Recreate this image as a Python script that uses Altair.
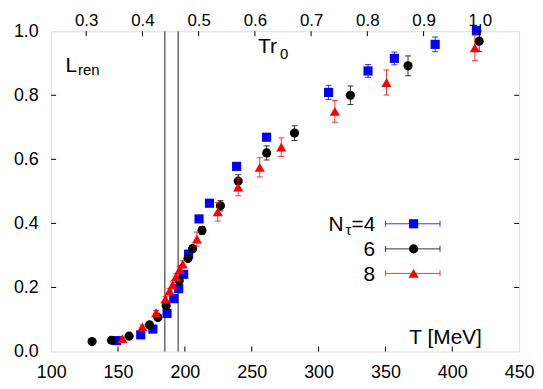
import altair as alt
import pandas as pd

# ---------------- data ----------------
# N_tau = 4 (blue squares)
T4 = [149.0, 167.0, 176.1, 186.7, 191.7, 195.4, 199.1, 202.8, 210.6, 218.4,
      238.7, 261.1, 307.5, 337.0, 356.7, 387.2, 418.1]
L4 = [0.034, 0.052, 0.070, 0.119, 0.165, 0.196, 0.241, 0.304, 0.414, 0.463,
      0.578, 0.669, 0.809, 0.876, 0.915, 0.959, 1.002]
E4 = [0.004, 0.004, 0.004, 0.005, 0.005, 0.005, 0.006, 0.006, 0.007, 0.008,
      0.010, 0.010, 0.022, 0.020, 0.020, 0.023, 0.010]

# N_tau = 6 (black circles)
T6 = [130.6, 145.1, 158.3, 173.6, 179.8, 186.0, 195.8, 202.3, 205.8, 212.8,
      226.6, 239.9, 261.2, 282.0, 323.8, 366.9, 420.1]
L6 = [0.031, 0.035, 0.048, 0.083, 0.106, 0.143, 0.221, 0.290, 0.321, 0.378,
      0.455, 0.532, 0.620, 0.682, 0.800, 0.892, 0.969]
E6 = [0.004, 0.004, 0.005, 0.006, 0.006, 0.007, 0.008, 0.009, 0.010, 0.012,
      0.016, 0.020, 0.022, 0.023, 0.029, 0.031, 0.032]

# N_tau = 8 (red triangles)
T8 = [153.3, 168.2, 178.5, 185.5, 188.6, 190.9, 193.4, 196.1, 198.4, 209.0,
      224.6, 239.9, 256.0, 272.1, 312.2, 350.8, 416.9]
L8 = [0.040, 0.077, 0.121, 0.164, 0.189, 0.208, 0.234, 0.256, 0.273, 0.351,
      0.436, 0.513, 0.575, 0.638, 0.750, 0.840, 0.948]
E8 = [0.005, 0.006, 0.007, 0.008, 0.008, 0.009, 0.009, 0.010, 0.010, 0.022,
      0.029, 0.027, 0.030, 0.029, 0.034, 0.039, 0.040]

vlines = [185, 195]
x_ticks = [100, 150, 200, 250, 300, 350, 400, 450]
y_ticks = [0.0, 0.2, 0.4, 0.6, 0.8, 1.0]
top_ticks = [0.3, 0.4, 0.5, 0.6, 0.7, 0.8, 0.9, 1.0]
TR0_T = 420.6  # T [MeV] at which T r0 = 1

legend_labels = ["=4", "6", "8"]
colors = ["#0000ff", "#000000", "#ff0000"]
shapes = ["square", "circle", "triangle-up"]
sizes = [85, 85, 105]

# ---------------- layout ----------------
W, H = 471.5, 322.7
FONT = "Liberation Sans"
TICK_FS = 18
ANN_FS = 21
SUB_FS = 15

xscale = alt.Scale(domain=[100, 450], nice=False, zero=False)
yscale = alt.Scale(domain=[0, 1], nice=False, zero=False)
xaxis = alt.Axis(values=x_ticks, format="d", orient="bottom", ticks=False,
                 domain=False, grid=False, labelPadding=12, title=None,
                 labelFont=FONT, labelFontSize=TICK_FS, labelColor="black",
                 labelFlush=False, labelOverlap=False)
yaxis = alt.Axis(values=y_ticks, format=".1f", orient="left", ticks=False,
                 domain=False, grid=False, labelPadding=13, title=None,
                 labelFont=FONT, labelFontSize=TICK_FS, labelColor="black",
                 labelOverlap=False)


def X(f):
    return alt.X(f"{f}:Q", scale=xscale, axis=xaxis)


def Y(f):
    return alt.Y(f"{f}:Q", scale=yscale, axis=yaxis)


def sdf(T, L, E):
    return pd.DataFrame({"T": T, "L": L,
                         "lo": [l - e for l, e in zip(L, E)],
                         "hi": [l + e for l, e in zip(L, E)]})


one = alt.Data(values=[{"a": 1}])
layers = []

# vertical lines
layers.append(alt.Chart(pd.DataFrame({"v": vlines})).mark_rule(
    color="#555555", strokeWidth=1.3).encode(x=X("v"), y=alt.value(0), y2=alt.value(H)))

# inner ticks
layers.append(alt.Chart(pd.DataFrame({"t": x_ticks[1:-1]})).mark_rule(
    color="black", strokeWidth=1).encode(x=X("t"), y=alt.value(H), y2=alt.value(H - 5)))
layers.append(alt.Chart(pd.DataFrame({"t": y_ticks[1:-1]})).mark_rule(
    color="black", strokeWidth=1).encode(y=Y("t"), x=alt.value(0), x2=alt.value(5)))
layers.append(alt.Chart(pd.DataFrame({"t": y_ticks[1:-1]})).mark_rule(
    color="black", strokeWidth=1).encode(y=Y("t"), x=alt.value(W), x2=alt.value(W - 5)))

# data series
for T, L, E, c, s, sz in [(T4, L4, E4, colors[0], shapes[0], sizes[0]),
                          (T6, L6, E6, colors[1], shapes[1], sizes[1]),
                          (T8, L8, E8, colors[2], shapes[2], sizes[2])]:
    d = sdf(T, L, E)
    base = alt.Chart(d)
    layers.append(base.mark_rule(color=c, strokeWidth=1, opacity=0.8).encode(
        x=X("T"), y=Y("lo"), y2="hi"))
    layers.append(base.mark_tick(color=c, orient="horizontal", size=6, thickness=1,
                                 opacity=0.8).encode(x=X("T"), y=Y("lo")))
    layers.append(base.mark_tick(color=c, orient="horizontal", size=6, thickness=1,
                                 opacity=0.8).encode(x=X("T"), y=Y("hi")))
    layers.append(base.mark_point(shape=s, filled=True, size=sz,
                                  color=c, opacity=1).encode(x=X("T"), y=Y("L")))

# legend
leg_y = [194, 219.3, 244]
lx0, lx1, lxm, ltx = 336.8, 391.8, 365.2, 326.5
for i in range(3):
    c = colors[i]
    yy = leg_y[i]
    layers.append(alt.Chart(one).mark_rule(color=c, strokeWidth=1, opacity=0.8).encode(
        x=alt.value(lx0), x2=alt.value(lx1), y=alt.value(yy)))
    for xx in (lx0, lx1):
        layers.append(alt.Chart(one).mark_rule(color=c, strokeWidth=1, opacity=0.8).encode(
            x=alt.value(xx), y=alt.value(yy - 3), y2=alt.value(yy + 3)))
    layers.append(alt.Chart(one).mark_point(shape=shapes[i], filled=True, opacity=1,
                                            size=sizes[i], color=c).encode(
        x=alt.value(lxm), y=alt.value(yy)))
    layers.append(alt.Chart(one).mark_text(align="right", baseline="alphabetic",
                                           font=FONT, fontSize=ANN_FS, color="black").encode(
        x=alt.value(ltx), y=alt.value(yy + 7.5), text=alt.value(legend_labels[i])))

# N_tau composition
layers.append(alt.Chart(one).mark_text(align="right", baseline="alphabetic", font=FONT,
                                       fontSize=SUB_FS, color="black").encode(
    x=alt.value(ltx - 24), y=alt.value(leg_y[0] + 11), text=alt.value("τ")))
layers.append(alt.Chart(one).mark_text(align="right", baseline="alphabetic", font=FONT,
                                       fontSize=ANN_FS, color="black").encode(
    x=alt.value(ltx - 32), y=alt.value(leg_y[0] + 7.5), text=alt.value("N")))


# annotations
def txt(s, x, y, fs, align="left"):
    return alt.Chart(one).mark_text(align=align, baseline="alphabetic", font=FONT,
                                    fontSize=fs, color="black").encode(
        x=alt.value(x), y=alt.value(y), text=alt.value(s))


layers.append(txt("L", 14.5, 40.7, ANN_FS))
layers.append(txt("ren", 27.0, 44.5, SUB_FS))
layers.append(txt("Tr", 208.5, 21.7, ANN_FS))
layers.append(txt("0", 230.5, 28.0, SUB_FS))
layers.append(txt("T [MeV]", 434.0, 315.0, ANN_FS, align="right"))

main = alt.layer(*layers)

# top axis (T r0)
top = alt.Chart(pd.DataFrame({"r": top_ticks})).mark_rule(color="black", strokeWidth=1).encode(
    x=alt.X("r:Q", scale=alt.Scale(domain=[100 / TR0_T, 450 / TR0_T], nice=False, zero=False),
            axis=alt.Axis(orient="top", values=top_ticks, format=".1f", ticks=False,
                          domain=False, grid=False, labelPadding=2, title=None,
                          labelFont=FONT, labelFontSize=17, labelColor="black",
                          labelFlush=False, labelOverlap=False)),
    y=alt.value(0), y2=alt.value(5))

chart = alt.layer(main, top).resolve_scale(x="independent").properties(
    width=W, height=H,
    autosize=alt.AutoSizeParams(type="none"),
    padding={"left": 43.5, "top": 22, "right": 16, "bottom": 28},
).configure_view(stroke="black", strokeWidth=1).configure(background="white")

chart.save("out.html", embed_options={"renderer": "svg", "actions": False})
